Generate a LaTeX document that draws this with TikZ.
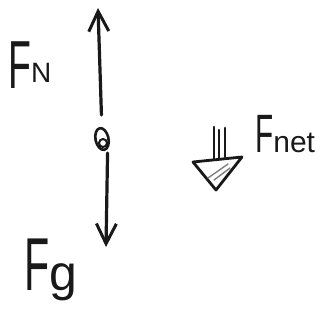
\documentclass[tikz,border=0pt]{standalone}
\usepackage{fontspec}
\setmainfont{Liberation Sans}
\usetikzlibrary{arrows.meta,shapes.geometric}
\tikzset{
  pen/.style={line width=3.2pt, line cap=round, line join=round, draw=black!90},
  vec/.style={pen, -{Straight Barb[length=20pt,width=20pt,line width=3pt]}},
  lbl/.style={inner sep=0pt, anchor=base west, text=black!90}
}
\newcommand{\bigF}[1]{\scalebox{0.55}[1]{\fontsize{#1}{#1}\selectfont F}}
\begin{document}
\begin{tikzpicture}[x=1pt,y=-1pt]
\useasboundingbox (0,0) rectangle (331,322);
% object
\node[draw=black!90, line width=2.6pt, ellipse, minimum width=13pt, minimum height=22pt, inner sep=0pt, rotate=12] (obj) at (102,139) {};
\node[draw=black!90, line width=2pt, circle, minimum size=8pt, inner sep=0pt] (core) at (103,143) {};
% vector ends
\coordinate (top) at (98,8);
\coordinate (bot) at (106,247);
\draw[vec] (obj.north) ++(2,-12) -- (top);
\draw[vec] (obj.south) ++(3,2) -- (bot);
% labels
\node[lbl] (FN) at (8,88) {\bigF{68}\raisebox{6pt}{\fontsize{28}{28}\selectfont N}};
\node[lbl] (Fg) at (24,290) {\bigF{75}{\fontsize{50}{50}\selectfont g}};
\node[lbl] (Fnet) at (255,152) {\bigF{54}{\fontsize{30}{30}\selectfont net}};
% net force hollow arrow
\coordinate (net) at (217,160);
\draw[pen, line width=2.8pt] (214,127) -- (214,159);
\draw[pen, line width=2.4pt] (219,130) -- (219,158);
\draw[pen, line width=2.8pt] (225,128) -- (225,157);
\draw[pen, line width=2.8pt] (193,162) -- (242,157) -- (216,190) -- cycle;
\draw[pen, line width=1.4pt, draw=black!50] (208,178) -- (228,164);
\draw[pen, line width=1.4pt, draw=black!50] (214,180) -- (230,168);
\end{tikzpicture}
\end{document}
